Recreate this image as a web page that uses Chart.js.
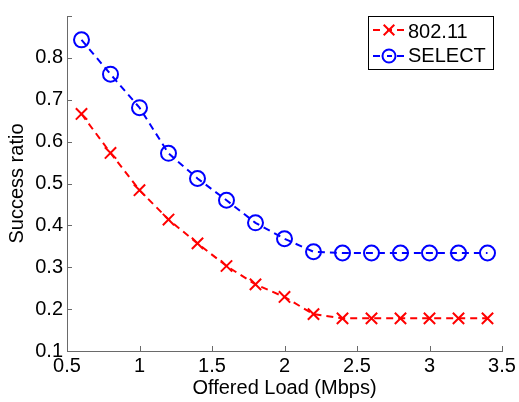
<!DOCTYPE html>
<html>
<head>
<meta charset="utf-8">
<script src="https://cdn.jsdelivr.net/npm/chart.js@4.4.1/dist/chart.umd.min.js"></script>
<style>
  html, body { margin: 0; padding: 0; background: #fff; }
  #wrap { width: 519px; height: 402px; position: relative; }
</style>
</head>
<body>
<div id="wrap"><canvas id="c" width="519" height="402"></canvas></div>
<script>
// Offered load (Mbps) on the x axis
const offeredLoad = [0.6, 0.8, 1.0, 1.2, 1.4, 1.6, 1.8, 2.0, 2.2, 2.4, 2.6, 2.8, 3.0, 3.2, 3.4];
// Success ratio per scheme
const ratio80211 = [0.666, 0.573, 0.484, 0.414, 0.357, 0.303, 0.259, 0.229, 0.188, 0.178, 0.178, 0.178, 0.178, 0.178, 0.178];
const ratioSelect = [0.843, 0.761, 0.681, 0.572, 0.512, 0.460, 0.406, 0.368, 0.337, 0.334, 0.334, 0.334, 0.334, 0.334, 0.334];
const seriesNames = ['802.11', 'SELECT'];
const xTicks = [0.5, 1, 1.5, 2, 2.5, 3, 3.5];
const yTicks = [0.1, 0.2, 0.3, 0.4, 0.5, 0.6, 0.7, 0.8, 0.9];
const yTickLabels = ['0.1', '0.2', '0.3', '0.4', '0.5', '0.6', '0.7', '0.8', ''];

const FONT = "'Liberation Sans', Arial, Helvetica, sans-serif";
const FONT_SIZE = 20;
const AXIS_COLOR = '#6a6a6a';

const toPoints = (ys) => offeredLoad.map((x, i) => ({ x, y: ys[i] }));

// Short inward tick marks on the left and bottom axes
const innerTicks = {
  id: 'innerTicks',
  afterDatasetsDraw(chart) {
    const { ctx, chartArea: a, scales: { x, y } } = chart;
    ctx.save();
    ctx.strokeStyle = AXIS_COLOR;
    ctx.lineWidth = 1;
    ctx.beginPath();
    xTicks.forEach(v => {
      const px = Math.round(x.getPixelForValue(v)) + 0.5;
      ctx.moveTo(px, a.bottom);
      ctx.lineTo(px, a.bottom - 5);
    });
    yTicks.forEach(v => {
      const py = Math.round(y.getPixelForValue(v)) + 0.5;
      ctx.moveTo(a.left, py);
      ctx.lineTo(a.left + 5, py);
    });
    ctx.stroke();
    ctx.restore();
  }
};

// Boxed legend with a short dashed sample and marker per series
const legendMarkerRadius = { crossRot: 7.5, circle: 6.5 };
const boxLegend = {
  id: 'boxLegend',
  afterDraw(chart) {
    const { ctx } = chart;
    const bx = 368.5, by = 16.5, bw = 125, bh = 53;
    ctx.save();
    ctx.fillStyle = '#fff';
    ctx.fillRect(bx, by, bw, bh);
    ctx.strokeStyle = '#000';
    ctx.lineWidth = 1;
    ctx.strokeRect(bx, by, bw, bh);
    chart.data.datasets.forEach((ds, i) => {
      const my = 30 + i * 26;
      const ty = 31 + i * 24;
      ctx.strokeStyle = ds.borderColor;
      ctx.lineWidth = 2;
      ctx.setLineDash([7, 7, 5, 5, 7, 100]);
      ctx.beginPath();
      ctx.moveTo(373, my);
      ctx.lineTo(404, my);
      ctx.stroke();
      ctx.setLineDash([]);
      ctx.fillStyle = 'rgba(0,0,0,0)';
      ctx.strokeStyle = ds.pointBorderColor;
      Chart.helpers.drawPoint(ctx, {
        pointStyle: ds.pointStyle,
        radius: legendMarkerRadius[ds.pointStyle],
        borderWidth: ds.pointBorderWidth
      }, 389, my);
      ctx.fillStyle = '#000';
      ctx.font = FONT_SIZE + 'px ' + FONT;
      ctx.textBaseline = 'middle';
      ctx.textAlign = 'left';
      ctx.fillText(ds.label, 408, ty + 1);
    });
    ctx.restore();
  }
};

const datasetStyle = (color, style, radius) => ({
  borderColor: color,
  backgroundColor: 'rgba(0,0,0,0)',
  pointBorderColor: color,
  pointBackgroundColor: 'rgba(0,0,0,0)',
  borderWidth: 2,
  borderDash: [7, 5],
  pointStyle: style,
  pointRadius: radius,
  pointHoverRadius: radius,
  pointBorderWidth: 2,
  tension: 0,
  fill: false
});

new Chart(document.getElementById('c'), {
  type: 'line',
  data: {
    datasets: [
      Object.assign({ label: seriesNames[0], data: toPoints(ratio80211) }, datasetStyle('#ff0000', 'crossRot', 8)),
      Object.assign({ label: seriesNames[1], data: toPoints(ratioSelect) }, datasetStyle('#0000ff', 'circle', 7.5))
    ]
  },
  options: {
    responsive: false,
    animation: false,
    devicePixelRatio: 1,
    layout: { padding: { top: 9, right: 17, left: 0, bottom: 0 } },
    plugins: { legend: { display: false }, tooltip: { enabled: false } },
    scales: {
      x: {
        type: 'linear',
        min: 0.5, max: 3.5,
        afterBuildTicks: (s) => { s.ticks = xTicks.map(v => ({ value: v })); },
        afterFit: (s) => { s.height = 51; },
        grid: { drawOnChartArea: false, drawTicks: false },
        border: { display: true, color: AXIS_COLOR, width: 1 },
        ticks: {
          color: '#000', padding: 3, maxRotation: 0, autoSkip: false,
          font: { family: FONT, size: FONT_SIZE },
          callback: (v) => String(v)
        },
        title: {
          display: true, text: 'Offered Load (Mbps)', color: '#000',
          font: { family: FONT, size: FONT_SIZE }, padding: { top: 0, bottom: 2 }
        }
      },
      y: {
        type: 'linear',
        min: 0.1, max: 0.9,
        afterBuildTicks: (s) => { s.ticks = yTicks.map(v => ({ value: v })); },
        afterFit: (s) => { s.width = 67; },
        grid: { drawOnChartArea: false, drawTicks: false },
        border: { display: true, color: AXIS_COLOR, width: 1 },
        ticks: {
          color: '#000', padding: 4, autoSkip: false,
          font: { family: FONT, size: FONT_SIZE },
          callback: (v, i) => yTickLabels[i]
        },
        title: {
          display: true, text: 'Success ratio', color: '#000',
          font: { family: FONT, size: FONT_SIZE }, padding: { top: 5, bottom: 0 }
        }
      }
    }
  },
  plugins: [innerTicks, boxLegend]
});
</script>
</body>
</html>
